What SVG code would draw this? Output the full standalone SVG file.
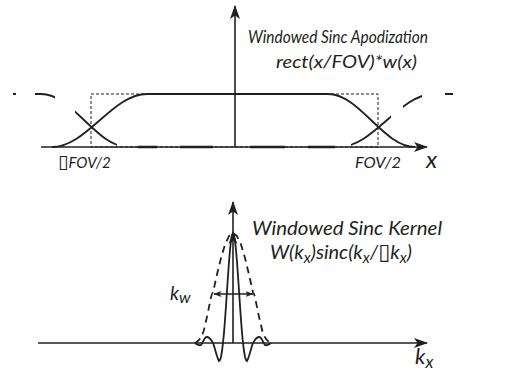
<svg xmlns="http://www.w3.org/2000/svg" width="507" height="373" viewBox="0 0 507 373">
  <style>
    .ax { fill: none; stroke: #231f20; stroke-width: 1.6; }
    .crv { fill: none; stroke: #231f20; stroke-width: 1.8; }
    .dot { fill: none; stroke: #231f20; stroke-width: 1; stroke-dasharray: 3 2; }
    .dsh { fill: none; stroke: #231f20; stroke-width: 1.8; stroke-dasharray: 7 5; }
    .thk { fill: none; stroke: #231f20; stroke-width: 2.6; }
    .lbl { font-family: Lato, "Open Sans", sans-serif; font-style: italic; fill: #231f20; }
    .tofu { font-family: "DejaVu Sans", sans-serif; font-style: normal; }
  </style>
  <defs>
    <marker id="arr" viewBox="0 0 14 10" refX="13" refY="5" markerWidth="14" markerHeight="10" markerUnits="userSpaceOnUse" orient="auto">
      <path d="M0,0 L14,5 L0,10 L3.5,5 z" fill="#231f20"/>
    </marker>
    <marker id="sarr" viewBox="0 0 8 6" refX="7.5" refY="3" markerWidth="8" markerHeight="6" markerUnits="userSpaceOnUse" orient="auto-start-reverse">
      <path d="M0,0 L8,3 L0,6 L2,3 z" fill="#231f20"/>
    </marker>
    <clipPath id="clipL">
      <rect x="13" y="80" width="3" height="80"/>
      <rect x="35" y="80" width="20" height="80"/>
      <rect x="75" y="80" width="42" height="80"/>
    </clipPath>
    <clipPath id="clipR">
      <rect x="351" y="80" width="40" height="80"/>
      <rect x="403" y="80" width="19" height="80"/>
      <rect x="445" y="80" width="8" height="80"/>
    </clipPath>
  </defs>

  <g id="apodization-plot">
    <rect class="dot" x="91" y="94" width="287" height="53"/>
    <path class="crv" d="M52,147 C86.5,147 112.5,94 147,94 L328,94 C359.6,94 383.4,147 415,147"/>
    <path class="crv" clip-path="url(#clipL)" d="M10,94 L41,94 C72.6,94 96.4,147 128,147"/>
    <path class="crv" clip-path="url(#clipR)" d="M339,147 C373.5,147 399.5,94 434,94 L460,94"/>
    <g id="zero-dashes">
      <path class="thk" d="M138,147 H157 M180,147 H213 M250,147 H285 M308,147 H335"/>
    </g>
  </g>

  <g id="kernel-plot">
    <path class="dsh" d="M195,343 C199,341 203,337 205,325 C209,310 211,293 213,292.5 L217,274.5 L221,258 L225,244.6 L229,236 L233,233 L237,236 L241,244.6 L245,258 L249,274.5 L253,292.5 C255,293 257,310 261,325 C263,337 267,341 271,343"/>
    <path class="crv" d="M195,343 C198,345 199,346 201,345 C203,343 204,337 207,337 C210,337 211,340 213,343 L214,345.8 L215,349.2 L216,352.7 L217,356 L218,359 L219,361 L220,360 L221,357 L222,351 L223,343 L224,332.6 L225,320 L226,305.8 L227,290.8 L228,275.9 L229,262 L230,250 L231,240.8 L232,235 L233,233 L234,235 L235,240.8 L236,250 L237,262 L238,275.9 L239,290.8 L240,305.8 L241,320 L242,332.6 L243,343 L244,351 L245,357 L246,360 L247,361 L248,359 L249,356 L250,352.7 L251,349.2 L252,345.8 L253,343 C255,340 256,337 259,337 C262,337 263,343 265,345 C267,346 268,345 271,343"/>
    <path d="M233,232 L228.5,244 L233,240.5 L237.5,244 z" fill="#231f20"/>
    <line class="ax" x1="214" y1="294" x2="253" y2="294" marker-start="url(#sarr)" marker-end="url(#sarr)" stroke-width="1.4"/>
  </g>

  <g id="connectors">
    <line class="ax" x1="235" y1="147" x2="235" y2="6" marker-end="url(#arr)"/>
    <line class="ax" x1="41" y1="147" x2="427" y2="147" marker-end="url(#arr)"/>
    <line class="ax" x1="233" y1="343" x2="233" y2="202" marker-end="url(#arr)"/>
    <line class="ax" x1="38" y1="343" x2="427" y2="343" marker-end="url(#arr)"/>
  </g>

  <g id="labels">
    <text class="lbl" x="248" y="43" font-size="18" textLength="180" lengthAdjust="spacingAndGlyphs">Windowed Sinc Apodization</text>
    <text class="lbl" x="276" y="68" font-size="18" textLength="141" lengthAdjust="spacingAndGlyphs">rect(x/FOV)*w(x)</text>
    <text class="lbl" x="58" y="168" font-size="15"><tspan class="tofu" font-size="19">▯</tspan>FOV/2</text>
    <text class="lbl" x="355" y="168" font-size="15" textLength="46" lengthAdjust="spacingAndGlyphs">FOV/2</text>
    <text class="lbl" x="426" y="168" font-size="24">x</text>
    <text class="lbl" x="252" y="235" font-size="20" textLength="190" lengthAdjust="spacingAndGlyphs">Windowed Sinc Kernel</text>
    <text class="lbl" x="270" y="259" font-size="20">W(k<tspan font-size="15" dy="4">x</tspan><tspan dy="-4">)sinc(k</tspan><tspan font-size="15" dy="4">x</tspan><tspan dy="-4">/</tspan><tspan class="tofu" font-size="22">▯</tspan>k<tspan font-size="15" dy="4">x</tspan><tspan dy="-4">)</tspan></text>
    <text class="lbl" x="170" y="300" font-size="19">k<tspan font-size="16" dy="3">w</tspan></text>
    <text class="lbl" x="415" y="364" font-size="22">k<tspan font-size="17" dy="4">x</tspan></text>
  </g>
</svg>
